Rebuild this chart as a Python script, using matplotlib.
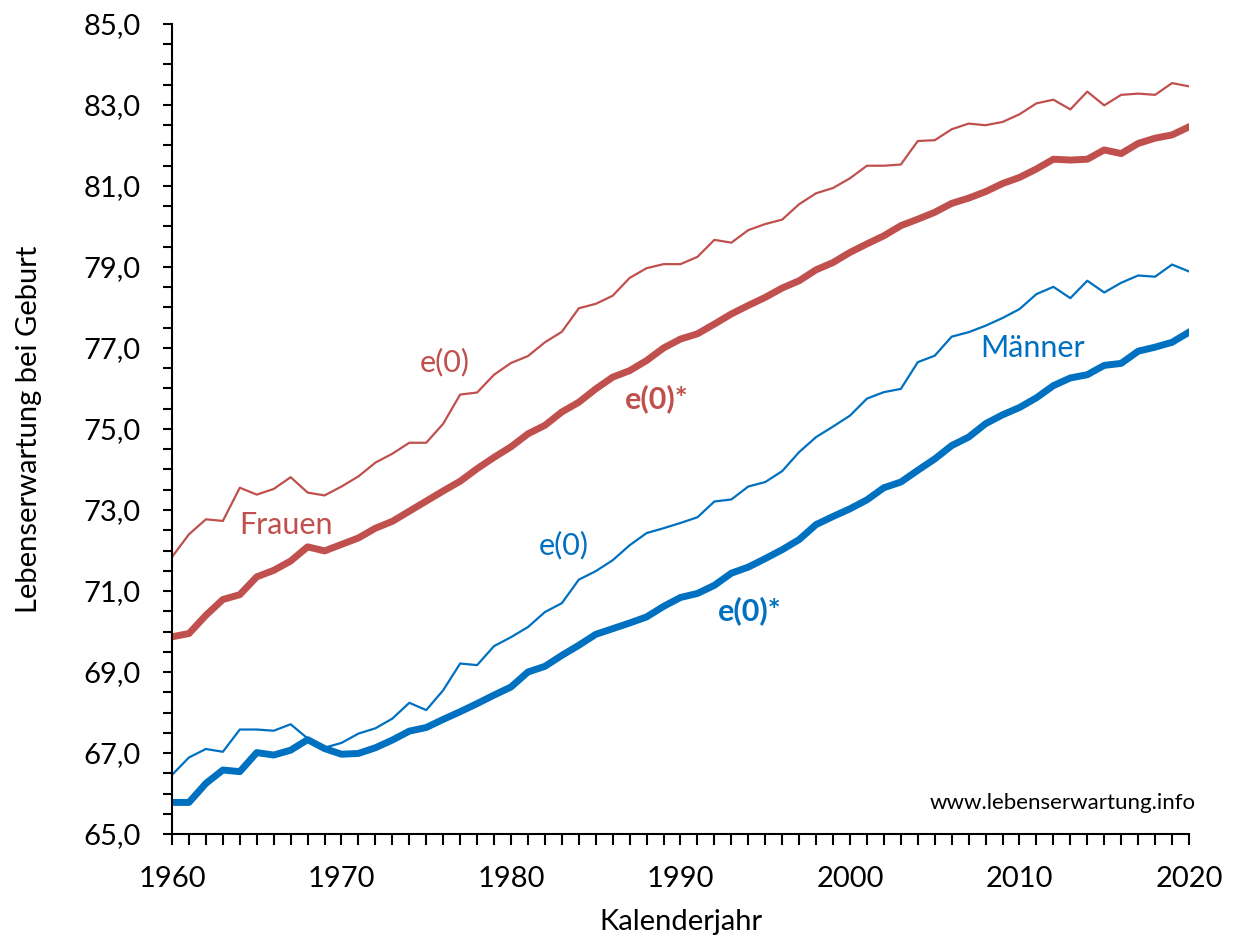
import matplotlib
matplotlib.use("Agg")
import matplotlib.pyplot as plt
from matplotlib.ticker import FixedLocator, MultipleLocator, FuncFormatter

plt.rcParams["font.family"] = ["Lato", "DejaVu Sans"]

years = list(range(1960, 2021))

# Frauen: e(0) und e(0)*
frauen_e0 = [71.84, 72.40, 72.77, 72.73, 73.55, 73.38, 73.52, 73.81, 73.43, 73.36,
             73.58, 73.83, 74.17, 74.39, 74.66, 74.66, 75.13, 75.85, 75.90, 76.34,
             76.63, 76.80, 77.14, 77.40, 77.98, 78.09, 78.29, 78.73, 78.97, 79.07,
             79.07, 79.25, 79.67, 79.60, 79.91, 80.06, 80.17, 80.55, 80.82, 80.95,
             81.19, 81.50, 81.50, 81.53, 82.11, 82.13, 82.40, 82.54, 82.50, 82.58,
             82.77, 83.04, 83.13, 82.89, 83.33, 82.99, 83.25, 83.28, 83.25, 83.54,
             83.46]
frauen_e0s = [69.87, 69.95, 70.40, 70.79, 70.91, 71.35, 71.51, 71.74, 72.09, 71.99,
              72.15, 72.31, 72.55, 72.72, 72.97, 73.22, 73.47, 73.71, 74.02, 74.30,
              74.56, 74.88, 75.09, 75.42, 75.66, 75.99, 76.28, 76.44, 76.69, 77.00,
              77.22, 77.35, 77.59, 77.84, 78.05, 78.25, 78.48, 78.66, 78.93, 79.11,
              79.36, 79.57, 79.77, 80.02, 80.18, 80.35, 80.57, 80.70, 80.86, 81.06,
              81.21, 81.42, 81.66, 81.64, 81.66, 81.89, 81.80, 82.05, 82.18, 82.26,
              82.46]

# Männer: e(0) und e(0)*
maenner_e0 = [66.46, 66.89, 67.10, 67.03, 67.58, 67.58, 67.55, 67.71, 67.36, 67.13,
              67.25, 67.48, 67.61, 67.85, 68.24, 68.06, 68.55, 69.21, 69.17, 69.64,
              69.86, 70.11, 70.48, 70.70, 71.28, 71.49, 71.76, 72.13, 72.43, 72.55,
              72.68, 72.82, 73.21, 73.26, 73.58, 73.69, 73.96, 74.43, 74.80, 75.06,
              75.33, 75.75, 75.91, 75.99, 76.65, 76.81, 77.28, 77.39, 77.55, 77.74,
              77.96, 78.33, 78.51, 78.23, 78.66, 78.37, 78.61, 78.79, 78.76, 79.06,
              78.89]
maenner_e0s = [65.78, 65.78, 66.25, 66.58, 66.54, 67.01, 66.95, 67.07, 67.33, 67.11,
               66.97, 66.99, 67.13, 67.32, 67.54, 67.63, 67.83, 68.02, 68.22, 68.43,
               68.63, 69.00, 69.14, 69.41, 69.66, 69.93, 70.07, 70.21, 70.36, 70.62,
               70.84, 70.94, 71.14, 71.44, 71.59, 71.80, 72.02, 72.27, 72.64, 72.84,
               73.03, 73.25, 73.55, 73.69, 73.98, 74.26, 74.59, 74.80, 75.13, 75.35,
               75.53, 75.77, 76.07, 76.26, 76.34, 76.57, 76.62, 76.92, 77.02, 77.14,
               77.39]

y_ticks = list(range(65, 86, 2))

rot = "#C0504D"
blau = "#0070C0"

fig = plt.figure(figsize=(12.33, 9.47), dpi=100)
ax = fig.add_axes([0.1395, 0.1193, 0.8248, 0.8554])

ax.plot(years, frauen_e0, color=rot, lw=1.6)
ax.plot(years, frauen_e0s, color=rot, lw=5)
ax.plot(years, maenner_e0, color=blau, lw=1.6)
ax.plot(years, maenner_e0s, color=blau, lw=5)

ax.set_xlim(1960, 2020)
ax.set_ylim(65, 85)

ax.xaxis.set_major_locator(MultipleLocator(10))
ax.xaxis.set_minor_locator(MultipleLocator(1))
ax.yaxis.set_major_locator(FixedLocator(y_ticks))
ax.yaxis.set_minor_locator(MultipleLocator(0.5))
ax.yaxis.set_major_formatter(FuncFormatter(lambda v, p: f"{v:.1f}".replace(".", ",")))

for s in ["top", "right"]:
    ax.spines[s].set_visible(False)
for s in ["left", "bottom"]:
    ax.spines[s].set_linewidth(1.5)

ax.tick_params(which="both", direction="out", width=1.5, labelsize=21)
ax.tick_params(axis="x", which="both", length=8, pad=15)
ax.tick_params(axis="y", which="both", length=6.5, pad=16)

ax.set_xlabel("Kalenderjahr", fontsize=21, labelpad=12)
ax.set_ylabel("Lebenserwartung bei Geburt", fontsize=21, labelpad=30)

# Beschriftungen im Diagramm
ax.text(1976.1, 76.64, "e(0)", color=rot, fontsize=22, ha="center", va="center")
ax.text(1988.6, 75.75, "e(0)*", color=rot, fontsize=22, fontweight="bold", ha="center", va="center")
ax.text(1966.7, 72.64, "Frauen", color=rot, fontsize=22, ha="center", va="center")
ax.text(1983.1, 72.13, "e(0)", color=blau, fontsize=22, ha="center", va="center")
ax.text(1994.1, 70.52, "e(0)*", color=blau, fontsize=22, fontweight="bold", ha="center", va="center")
ax.text(2010.8, 77.01, "Männer", color=blau, fontsize=22, ha="center", va="center")
ax.text(2020.4, 65.76, "www.lebenserwartung.info", color="black", fontsize=16, ha="right", va="center")

plt.savefig("out.png", dpi=100)
